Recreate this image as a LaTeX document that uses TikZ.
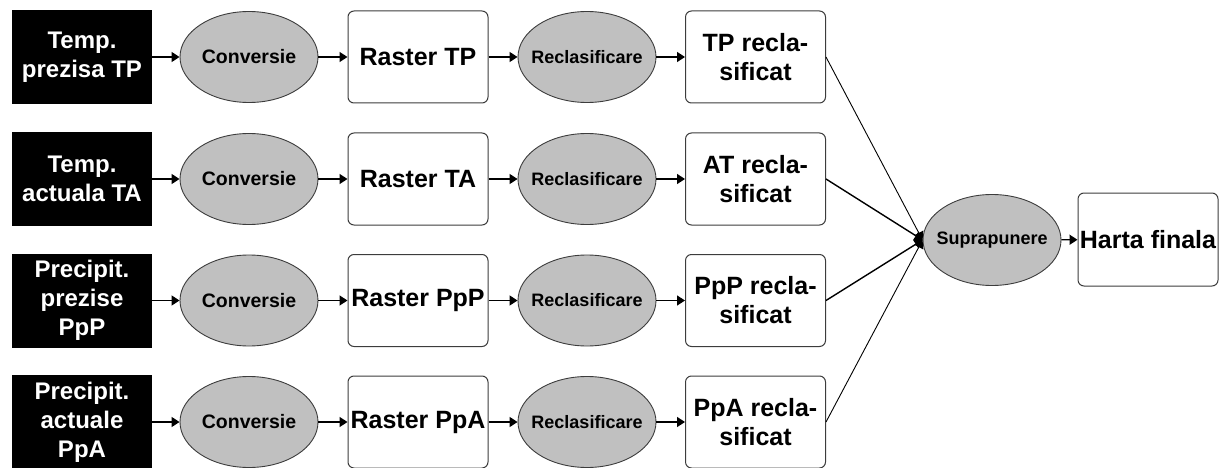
\documentclass[tikz,border=0pt]{standalone}
\usepackage{fontspec}
\setmainfont{Liberation Sans}
\usetikzlibrary{arrows.meta,shapes.geometric}
\definecolor{ovalfill}{RGB}{192,192,192}
\definecolor{edgegray}{RGB}{60,60,60}
\tikzset{flow/.style={-{Triangle[length=8pt,width=10pt]},line width=1.4pt},
 source/.style={fill=black,text=white,minimum width=140pt,minimum height=94pt,inner sep=0pt,
  align=center,font=\bfseries\fontsize{24}{29}\selectfont},
 result/.style={draw=edgegray,line width=1pt,rounded corners=6pt,minimum width=140pt,
  minimum height=92pt,inner sep=0pt,align=center,font=\bfseries\fontsize{25}{29}\selectfont},
 oval/.style={ellipse,draw=edgegray,line width=0.9pt,fill=ovalfill,minimum width=138pt,
  minimum height=91pt,inner sep=0pt,font=\bfseries\fontsize{18}{20}\selectfont}}

\begin{document}
\begin{tikzpicture}[x=1pt,y=-1pt]
\useasboundingbox (0,0) rectangle (1223,468);
% one row per input layer
\foreach \i/\y/\src/\tag/\rec in {1/57/{Temp.\\prezisa TP}/TP/TP,
  2/179/{Temp.\\actuala TA}/TA/AT,
  3/300.5/{Precipit.\\prezise\\PpP}/PpP/PpP,
  4/422/{Precipit.\\actuale\\PpA}/PpA/PpA}{
\node[source] (src\i) at (82,\y) {\src};
\node[oval,font=\bfseries\fontsize{19.5}{20}\selectfont] (conv\i) at (249,\y) {\makebox[0pt]{Conversie}};
\node[result] (ras\i) at (418,\y) {Raster \tag};
\node[oval] (rcl\i) at (587,\y) {\makebox[0pt]{Reclasificare}};
\node[result] (out\i) at (755.5,\y) {\rec{} recla-\\sificat};
\draw[flow] (src\i) -- (conv\i);
\draw[flow] (conv\i) -- (ras\i);
\draw[flow] (ras\i) -- (rcl\i);
\draw[flow] (rcl\i) -- (out\i);
}
\node[oval] (sup) at (992,240) {\makebox[0pt]{Suprapunere}};
\node[result,minimum height=93pt] (fin) at (1148,239.5) {Harta finala};
\draw[flow,line width=0.9pt] (out1.east) -- (sup.west);
\draw[flow] (out2.east) -- (sup.west);
\draw[flow] (out3.east) -- (sup.west);
\draw[flow,line width=0.9pt] (out4.east) -- (sup.west);
\draw[flow] (sup) -- (fin);
\end{tikzpicture}
\end{document}
